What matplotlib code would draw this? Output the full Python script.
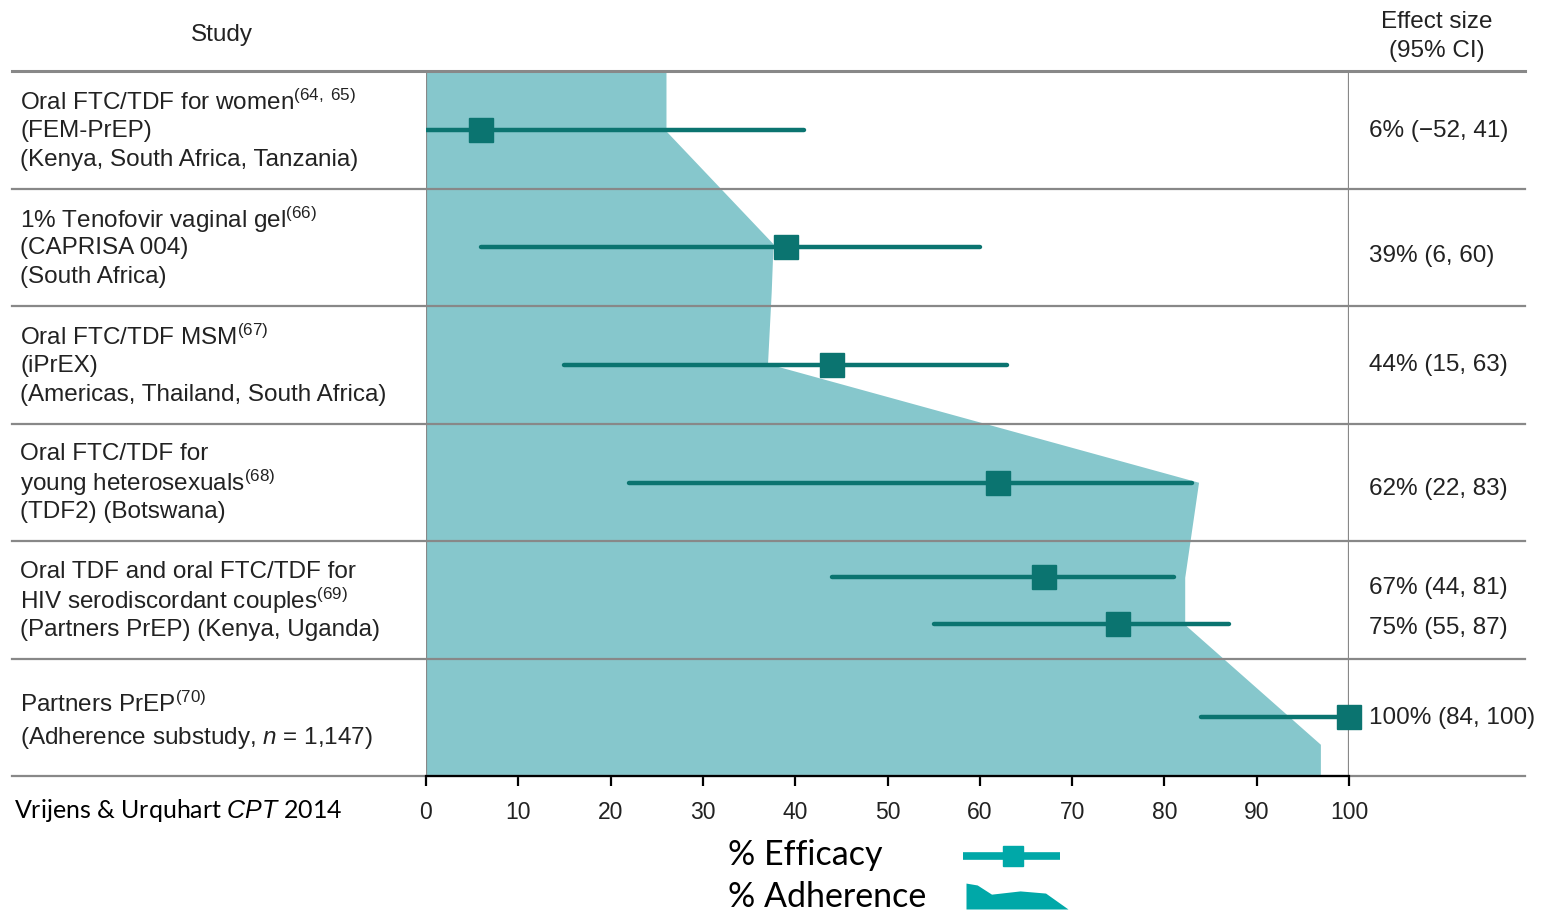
import matplotlib
matplotlib.use("Agg")
import matplotlib.pyplot as plt
from matplotlib.transforms import blended_transform_factory

# Fonts
plt.rcParams['font.family'] = ['Liberation Sans', 'DejaVu Sans']
plt.rcParams['mathtext.fontset'] = 'custom'
plt.rcParams['mathtext.rm'] = 'Liberation Sans'
plt.rcParams['mathtext.it'] = 'Liberation Sans:italic'

# Study rows (each row is one unit tall, top row = 0)
study_lines = [
    ["Oral FTC/TDF for women$^{\\mathrm{(64,\\ 65)}}$", "(FEM-PrEP)", "(Kenya, South Africa, Tanzania)"],
    ["1% Tenofovir vaginal gel$^{\\mathrm{(66)}}$", "(CAPRISA 004)", "(South Africa)"],
    ["Oral FTC/TDF MSM$^{\\mathrm{(67)}}$", "(iPrEX)", "(Americas, Thailand, South Africa)"],
    ["Oral FTC/TDF for", "young heterosexuals$^{\\mathrm{(68)}}$", "(TDF2) (Botswana)"],
    ["Oral TDF and oral FTC/TDF for", "HIV serodiscordant couples$^{\\mathrm{(69)}}$", "(Partners PrEP) (Kenya, Uganda)"],
    ["Partners PrEP$^{\\mathrm{(70)}}$", "(Adherence substudy, $n$ = 1,147)"],
]

# Efficacy estimates (%), with 95% CI
eff_y = [0.50, 1.50, 2.50, 3.51, 4.31, 4.71, 5.50]
eff_est = [6, 39, 44, 62, 67, 75, 100]
eff_lo = [-52, 6, 15, 22, 44, 55, 84]
eff_hi = [41, 60, 63, 83, 81, 87, 100]
eff_labels = ["6% (\u221252, 41)", "39% (6, 60)", "44% (15, 63)", "62% (22, 83)",
              "67% (44, 81)", "75% (55, 87)", "100% (84, 100)"]
eff_label_y = [0.50, 1.57, 2.49, 3.55, 4.39, 4.73, 5.50]

# Adherence profile (%), traced down the rows
adh_y = [0.00, 0.51, 1.47, 1.88, 2.49, 3.50, 4.31, 4.71, 5.73, 6.00]
adh_x = [26.0, 26.0, 37.6, 37.4, 37.0, 83.7, 82.2, 82.2, 96.9, 96.9]

# Legend glyph shape for adherence
leg_shape_x = [0.0, 0.11, 0.25, 0.53, 0.78, 1.0]
leg_shape_y = [0.96, 0.89, 0.55, 0.67, 0.59, 0.0]

FILL = '#86c7cc'
DARK = '#0b7470'
GRID = '#888888'
LEG = '#00a8a8'
TXT = '#222222'
FS = 17.5

W, H = 1543, 912
fig = plt.figure(figsize=(W / 100, H / 100), dpi=100)
ax = fig.add_axes([426 / W, 1 - 777 / H, (1349 - 426) / W, (777 - 72) / H])
ax.set_xlim(0, 100)
ax.set_ylim(6, 0)

# Adherence shading
ax.fill_betweenx(adh_y, 0, adh_x, color=FILL, linewidth=0, zorder=1)

# Row separators across whole table
tr = blended_transform_factory(fig.transFigure, ax.transData)
for r in range(7):
    ax.plot([12 / W, 1525 / W], [r, r], transform=tr, color=GRID,
            lw=2.2 if r == 0 else 1.6, clip_on=False, zorder=2)
ax.axvline(0, color=GRID, lw=1.6, zorder=2)
ax.axvline(100, color=GRID, lw=1.6, zorder=2)

# Efficacy CIs and points
ax.hlines(eff_y, eff_lo, eff_hi, color=DARK, lw=3.2, zorder=3, capstyle='round')
ax.plot(eff_est, eff_y, 's', color=DARK, ms=17, zorder=4, clip_on=False)

# Axis styling
for s in ['top', 'left', 'right']:
    ax.spines[s].set_visible(False)
ax.spines['bottom'].set_color('black')
ax.spines['bottom'].set_linewidth(1.6)
ax.spines['bottom'].set_zorder(5)
ax.set_yticks([])
ax.set_xticks(range(0, 101, 10))
ax.tick_params(axis='x', direction='out', length=7, width=1.6, labelsize=16.5,
               pad=10, colors='black')
ax.tick_params(axis='x', labelcolor=TXT)

# Study text
for r, lines in enumerate(study_lines):
    n = len(lines)
    if n == 3:
        offs = [-0.245, 0.0, 0.245]
    else:
        offs = [-0.12, 0.17]
    for line, o in zip(lines, offs):
        ax.text(20 / W, r + 0.5 + o, line, transform=tr, fontsize=FS,
                color=TXT, ha='left', va='center')

# Effect size text
for lab, y in zip(eff_labels, eff_label_y):
    ax.text(1369 / W, y, lab, transform=tr, fontsize=FS, color=TXT,
            ha='left', va='center')

# Headers
fig.text(222 / W, 1 - 35 / H, "Study", fontsize=FS, color=TXT,
         ha='center', va='center')
fig.text(1437 / W, 1 - 22 / H, "Effect size", fontsize=FS, color=TXT,
         ha='center', va='center')
fig.text(1437 / W, 1 - 51 / H, "(95% CI)", fontsize=FS, color=TXT,
         ha='center', va='center')

# Source caption
fig.text(14 / W, 1 - 811 / H, "Vrijens & Urquhart $\\it{CPT}$ 2014",
         family=['Lato', 'DejaVu Sans'], fontsize=18, color='black',
         ha='left', va='center')

# Legend
fig.text(728 / W, 1 - 855 / H, "% Efficacy", family=['Lato', 'DejaVu Sans'],
         fontsize=24.5, color='black', ha='left', va='center')
fig.text(728 / W, 1 - 897 / H, "% Adherence", family=['Lato', 'DejaVu Sans'],
         fontsize=24.5, color='black', ha='left', va='center')

ax_l1 = fig.add_axes([963 / W, 1 - 870 / H, (1060 - 963) / W, 26 / H])
ax_l1.set_xlim(0, 1)
ax_l1.set_ylim(0, 1)
ax_l1.axis('off')
ax_l1.plot([0, 1], [0.5, 0.5], color=LEG, lw=5.5, solid_capstyle='butt')
ax_l1.plot([0.52], [0.5], 's', color=LEG, ms=14)

ax_l2 = fig.add_axes([966 / W, 1 - 910 / H, (1068 - 966) / W, 27 / H])
ax_l2.set_xlim(0, 1)
ax_l2.set_ylim(0, 1)
ax_l2.axis('off')
ax_l2.fill_between(leg_shape_x, 0, leg_shape_y, color=LEG, linewidth=0)

fig.savefig("out.png", dpi=100)
